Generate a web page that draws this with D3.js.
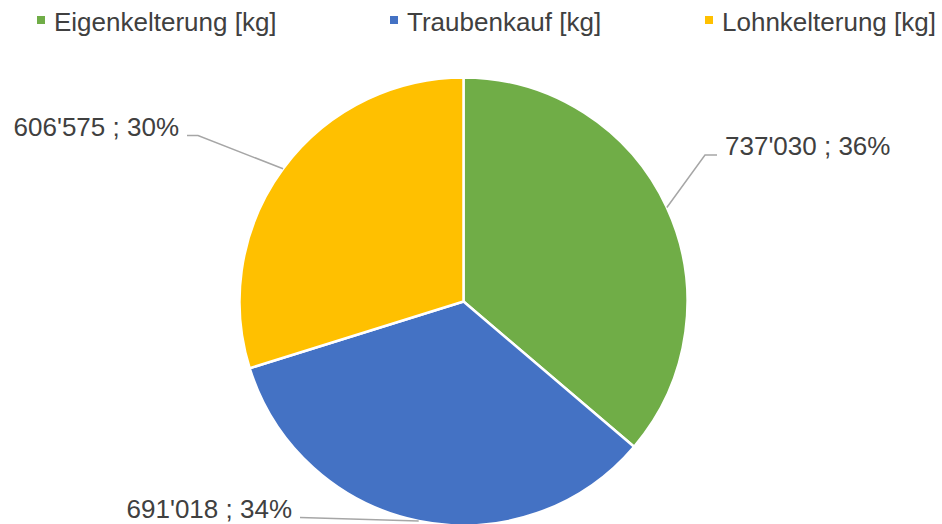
<!DOCTYPE html>
<html lang="de">
<head>
  <meta charset="UTF-8">
  <title>Kelterung</title>
  <script src="https://cdn.jsdelivr.net/npm/d3@7"></script>
  <style>
    body { margin: 0; background: #fff; }
    text { font-family: "Liberation Sans", Arial, sans-serif; fill: #404040; }
  </style>
</head>
<body>
  <div id="container"></div>
  <script>
    // Daten
    const categories = ["Eigenkelterung [kg]", "Traubenkauf [kg]", "Lohnkelterung [kg]"];
    const values = [737030, 691018, 606575];
    const colors = ["#70AD47", "#4472C4", "#FFC000"];

    // Layout
    const width = 942, height = 524;
    const cx = 463.5, cy = 301.5, radius = 224;
    const fontSize = 26;
    // Knickpunkt der Führungslinie relativ zum Zentrum
    const labelElbow = [
      { dx: 241.5, dy: -146.5, dir: 1, seg: 12 },
      { dx: -163.5, dy: 216, dir: -1, seg: 0 },
      { dx: -265.5, dy: -166, dir: -1, seg: 11 }
    ];
    const legendX = [37, 390, 705];

    const fmt = d3.formatLocale({ decimal: ".", thousands: "'", grouping: [3], currency: ["", ""] }).format(",d");
    const total = d3.sum(values);

    const svg = d3.select("#container").append("svg")
      .attr("width", width)
      .attr("height", height)
      .attr("viewBox", [0, 0, width, height]);

    const pie = d3.pie().sort(null).value(d => d)(values);
    const arc = d3.arc().innerRadius(0).outerRadius(radius);

    const g = svg.append("g").attr("transform", `translate(${cx},${cy})`);

    g.selectAll("path")
      .data(pie)
      .join("path")
      .attr("d", arc)
      .attr("fill", (d, i) => colors[i])
      .attr("stroke", "#fff")
      .attr("stroke-width", 2.5)
      .attr("stroke-linejoin", "round");

    // Führungslinien + Beschriftungen
    pie.forEach((d, i) => {
      const mid = (d.startAngle + d.endAngle) / 2;
      const px = Math.sin(mid) * radius, py = -Math.cos(mid) * radius;
      const L = labelElbow[i];
      const ex = L.dx + L.dir * L.seg;
      g.append("polyline")
        .attr("points", [[px, py], [L.dx, L.dy], [ex, L.dy]].map(p => p.join(",")).join(" "))
        .attr("fill", "none")
        .attr("stroke", "#A6A6A6")
        .attr("stroke-width", 1.5);
      g.append("text")
        .attr("x", ex + L.dir * 8)
        .attr("y", L.dy)
        .attr("text-anchor", L.dir > 0 ? "start" : "end")
        .attr("font-size", fontSize)
        .text(`${fmt(d.data)} ; ${Math.round(d.data / total * 100)}%`);
    });

    // Legende
    const leg = svg.append("g").selectAll("g")
      .data(categories)
      .join("g")
      .attr("transform", (d, i) => `translate(${legendX[i]},0)`);
    leg.append("rect")
      .attr("x", 0).attr("y", 16)
      .attr("width", 8).attr("height", 8)
      .attr("fill", (d, i) => colors[i]);
    leg.append("text")
      .attr("x", 17).attr("y", 31)
      .attr("font-size", fontSize)
      .text(d => d);
  </script>
</body>
</html>
